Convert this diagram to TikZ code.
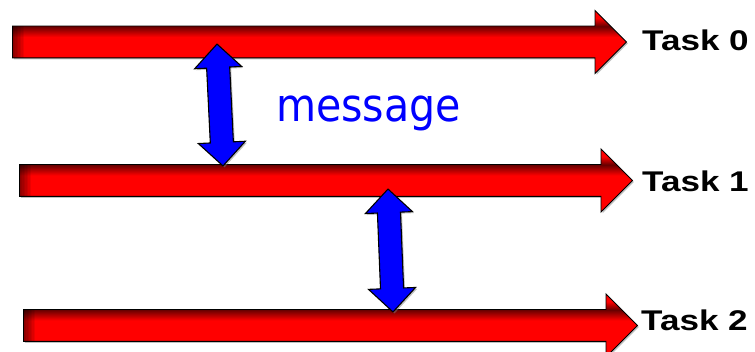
\documentclass[tikz,border=0pt]{standalone}
\usepackage{fontspec}
\setmainfont{Liberation Sans}
\newfontfamily\msgfont{DejaVu Sans}
\usetikzlibrary{shapes.arrows, shadows}

% red with a dark edge along the top of the shaft
\pgfdeclareverticalshading{lanered}{100bp}{color(0bp)=(red); color(54bp)=(red);
    color(62.5bp)=(red!40!black); color(69bp)=(red); color(100bp)=(red)}

\begin{document}
\begin{tikzpicture}[x=1pt, y=1pt,
    shade/.style={drop shadow={shadow xshift=1.5pt, shadow yshift=-1.5pt, fill=black!50, opacity=0.5}},
    lane/.style={draw=black, line width=0.9pt, single arrow, single arrow head extend=15.5pt,
        single arrow tip angle=90, inner xsep=0pt, inner ysep=15.5pt, anchor=tail,
        shading=lanered, shade,
        path picture={\foreach \i in {0,...,7}
            \fill[black, opacity=0.07] (path picture bounding box.south west)
                rectangle ([xshift=12pt-\i*1.5pt]path picture bounding box.north west);}},
    msg/.style={draw=black, line width=1.1pt, fill=blue, double arrow, double arrow head extend=12pt,
        double arrow tip angle=90, inner xsep=0pt, inner ysep=11pt, shade},
    task/.style={anchor=base west, inner sep=0pt, font=\bfseries\fontsize{28.5}{34}\selectfont}]
    \useasboundingbox (0,0) rectangle (755,-352);

    % the three tasks
    \node[lane, minimum height=614pt] (lane0) at (12,-42) {};
    \node[lane, minimum height=613pt] (lane1) at (19,-180.5) {};
    \node[lane, minimum height=614pt] (lane2) at (23,-325.5) {};

    \node[task] (task0) at (642,-51) {\scalebox{1.23}[1]{Task 0}};
    \node[task] (task1) at (642,-192) {\scalebox{1.23}[1]{Task 1}};
    \node[task] (task2) at (641,-331) {\scalebox{1.23}[1]{Task 2}};

    % message ends
    \coordinate (m1top) at (217,-44);
    \coordinate (m1bot) at (223,-166);
    \coordinate (m2top) at (388,-189);
    \coordinate (m2bot) at (393,-312);

    \path (m1bot) -- (m1top) node[msg, midway, sloped, minimum height=122pt] (msg1) {};
    \path (m2bot) -- (m2top) node[msg, midway, sloped, minimum height=123pt] (msg2) {};

    \node[anchor=base west, inner sep=0pt, text=blue,
        font=\msgfont\fontsize{45.7}{55}\selectfont] (label) at (276,-122) {\scalebox{0.9}[1]{message}};
\end{tikzpicture}
\end{document}
